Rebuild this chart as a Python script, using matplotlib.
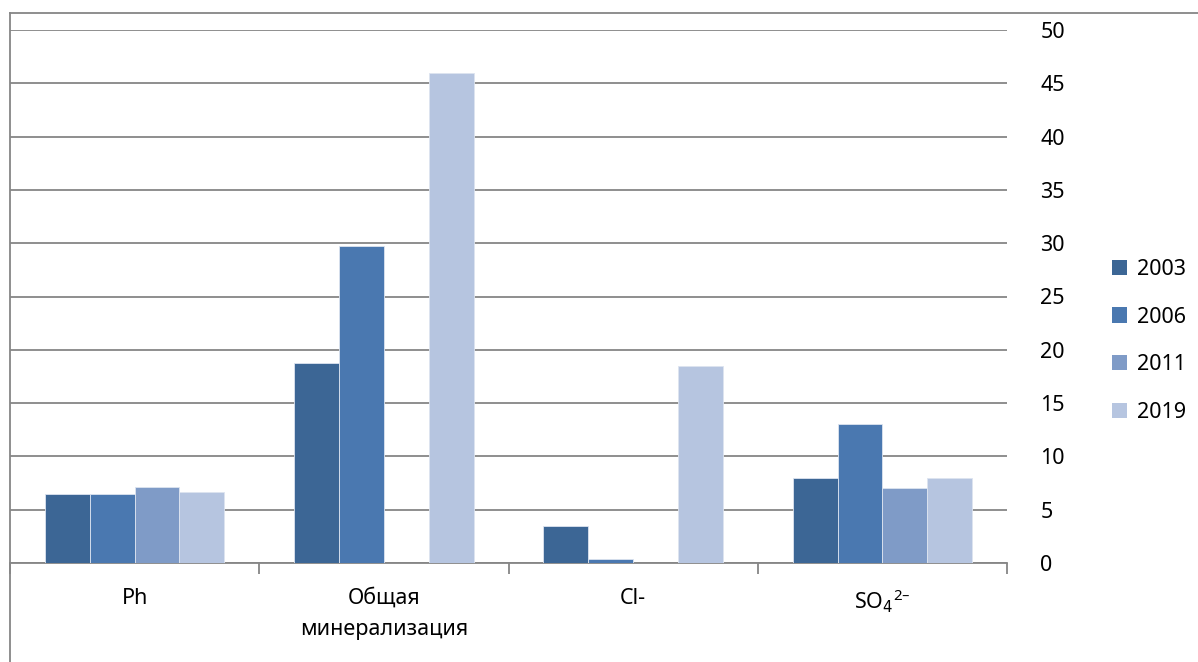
import matplotlib
matplotlib.use("Agg")
import matplotlib.pyplot as plt
import numpy as np
from matplotlib.lines import Line2D
from matplotlib.patches import Patch

plt.rcParams['font.family'] = ['Noto Sans', 'DejaVu Sans']

# measured parameters per year
categories = ["Ph", "Общая\nминерализация", "Cl-", r"SO$_4$$^{\mathregular{2–}}$"]
years = ["2003", "2006", "2011", "2019"]
v2003 = [6.5, 18.8, 3.5, 8.0]
v2006 = [6.5, 29.7, 0.4, 13.0]
v2011 = [7.1, 0.0, 0.0, 7.0]
v2019 = [6.7, 46.0, 18.5, 8.0]
colors = ["#3c6695", "#4a78b0", "#7f9bc7", "#b6c5e0"]

series = [v2003, v2006, v2011, v2019]
grid_col = "#868686"
fs = 15.5

fig = plt.figure(figsize=(11.98, 6.62), dpi=100)
ax = fig.add_axes([10 / 1198, 99 / 662, 997 / 1198, 533 / 662])

x = np.arange(len(categories))
w = 0.18
for i, (vals, col) in enumerate(zip(series, colors)):
    ax.bar(x + (i - 1.5) * w, vals, width=w, color=col,
           edgecolor="#dde4f0", linewidth=0.6, zorder=3)

ax.set_xlim(-0.5, len(categories) - 0.5)
ax.set_ylim(0, 50)
ax.set_yticks(np.arange(0, 51, 5))
ax.yaxis.tick_right()
ax.tick_params(axis="y", length=0, pad=24, labelsize=fs)
ax.grid(axis="y", color=grid_col, linewidth=1.3, zorder=0)

ax.set_xticks(x)
ax.set_xticklabels(categories, fontsize=fs, linespacing=1.6)
ax.set_xticks(np.arange(-0.5, len(categories), 1.0), minor=True)
ax.tick_params(axis="x", which="major", length=0, pad=18)
ax.tick_params(axis="x", which="minor", length=8, width=1.3, color=grid_col)

for side in ["left", "right", "top"]:
    ax.spines[side].set_visible(False)
ax.spines["bottom"].set_color(grid_col)
ax.spines["bottom"].set_linewidth(1.3)

# outer chart frame (only top and left edges fall inside the image)
fig.add_artist(Line2D([10 / 1198, 10 / 1198], [0, 1 - 13 / 662],
                      transform=fig.transFigure, color=grid_col, linewidth=1.3))
fig.add_artist(Line2D([10 / 1198, 1], [1 - 13 / 662, 1 - 13 / 662],
                      transform=fig.transFigure, color=grid_col, linewidth=1.3))

handles = [Patch(facecolor=c, edgecolor="none") for c in colors]
fig.legend(handles, years, loc="center left", bbox_to_anchor=(1093 / 1198, 1 - 341 / 662),
           frameon=False, fontsize=fs, handlelength=0.7, handleheight=0.7,
           handletextpad=0.45, labelspacing=1.25)

fig.savefig("out.png", dpi=100)
